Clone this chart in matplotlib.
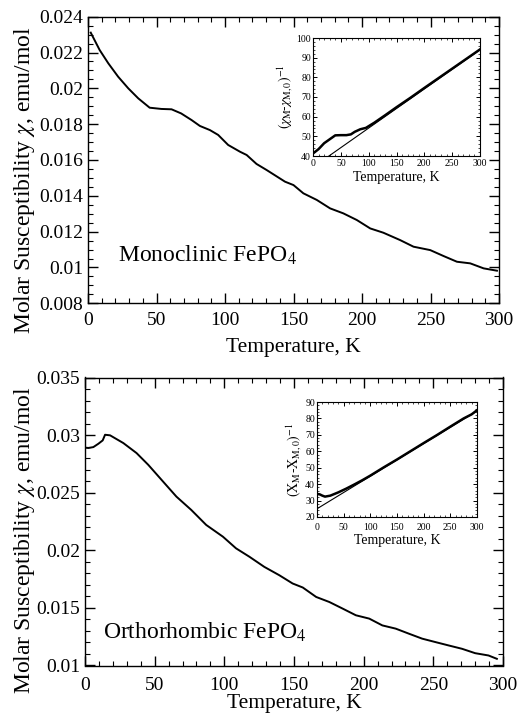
import matplotlib
matplotlib.use("Agg")
import matplotlib.pyplot as plt
from matplotlib.ticker import MultipleLocator, FuncFormatter

plt.rcParams['font.family'] = ['Liberation Serif', 'DejaVu Serif']
plt.rcParams['mathtext.fontset'] = 'stix'

# ---- data: monoclinic main curve ----
T_mono = [2, 8.5, 14.8, 22, 29.4, 36.7, 45, 53.6, 61, 68, 75.6, 81.7, 89, 95, 102.3, 111, 115.8,
          123, 130.4, 143.8, 150, 157.2, 167, 176.7, 186.4, 196.2, 206, 215.6, 227.8, 237.6,
          249.8, 259.5, 269.3, 279, 288.8, 298.5]
chi_mono = [0.02311, 0.02214, 0.0214, 0.02065, 0.0200, 0.01944, 0.01892, 0.01885, 0.01883, 0.0186,
            0.01823, 0.0179, 0.01767, 0.0174, 0.01684, 0.01646, 0.01628, 0.01578, 0.01544, 0.01479,
            0.0146, 0.01414, 0.01377, 0.0133, 0.01302, 0.01265, 0.01218, 0.01194, 0.01153, 0.01116,
            0.01097, 0.01064, 0.01032, 0.01023, 0.00995, 0.00982]

# ---- data: orthorhombic main curve ----
T_ortho = [0.5, 2.5, 6, 9.6, 12.7, 14.4, 18, 27.5, 37, 45.4, 56, 65.6, 76.3, 87, 99, 108.4, 118,
           128.7, 139.4, 149, 156.3, 165.9, 175.4, 184.9, 194.4, 204, 213.4, 223, 232.5, 242,
           251.6, 261, 270.6, 280, 289.6, 295.6]
chi_ortho = [0.0289, 0.02888, 0.02896, 0.02925, 0.02954, 0.03003, 0.02998, 0.02931, 0.02844, 0.02742,
             0.02597, 0.02466, 0.0235, 0.0222, 0.02118, 0.02017, 0.01944, 0.01856, 0.01784, 0.01712,
             0.01677, 0.01595, 0.01551, 0.01494, 0.01436, 0.01407, 0.01348, 0.0132, 0.01276, 0.01233,
             0.01203, 0.01174, 0.01145, 0.01107, 0.01087, 0.01058]

# ---- inset data (inverse susceptibility) ----
Ti_mono = [1, 10, 20, 30, 40, 50, 60, 68, 75, 85, 95, 110, 130, 150, 175, 200, 225, 250, 275, 300]
inv_mono = [41.5, 43.5, 46.5, 48.5, 50.5, 50.6, 50.6, 51.0, 52.3, 53.6, 54.3, 56.9, 60.8, 64.8,
            69.6, 74.6, 79.5, 84.4, 89.3, 94.2]
Ti_ortho = [0.5, 5, 10, 15, 25, 40, 55, 70, 85, 100, 125, 150, 175, 200, 225, 250, 275, 290, 300]
inv_ortho = [34.0, 33.8, 33.0, 32.4, 33.0, 35.0, 37.3, 39.8, 42.4, 45.2, 50.2, 55.0, 60.0, 65.0,
             69.9, 75.0, 80.0, 82.5, 85.0]

# Curie-Weiss fit lines
fit_T = [0, 300]
fit_mono = [34.3, 94.0]
fit_ortho = [25.0, 84.5]

W, H = 519, 717
fig = plt.figure(figsize=(W / 100, H / 100), dpi=100)


def rect(l, t, r, b):
    return [l / W, 1 - b / H, (r - l) / W, (b - t) / H]


def style_main(ax):
    ax.tick_params(which='both', direction='in', top=True, right=True, labelsize=14)
    ax.tick_params(which='major', length=7, width=1.0)
    ax.tick_params(which='minor', length=3.5, width=0.8)
    for s in ax.spines.values():
        s.set_linewidth(1.0)
    ax.xaxis.set_major_locator(MultipleLocator(50))
    ax.xaxis.set_minor_locator(MultipleLocator(10))
    ax.yaxis.set_major_formatter(FuncFormatter(lambda v, p: ('%g' % round(v, 4))))


def style_inset(ax, xpad):
    ax.tick_params(which='both', direction='in', top=True, right=True, labelsize=7, pad=1.5)
    ax.tick_params(axis='x', pad=xpad)
    ax.tick_params(which='major', length=3, width=0.7)
    ax.tick_params(which='minor', length=1.6, width=0.5)
    for s in ax.spines.values():
        s.set_linewidth(0.8)
    ax.set_xlim(0, 300)
    ax.xaxis.set_major_locator(MultipleLocator(50))
    ax.xaxis.set_minor_locator(MultipleLocator(10))
    ax.yaxis.set_major_locator(MultipleLocator(10))
    ax.yaxis.set_minor_locator(MultipleLocator(2))
    ax.set_xlabel('Temperature, K', fontsize=10, labelpad=1.5)


# ---------- top: monoclinic ----------
ax1 = fig.add_axes(rect(88, 16.7, 499, 303.3))
ax1.plot(T_mono, chi_mono, color='black', lw=1.4)
ax1.set_xlim(0, 300)
ax1.set_ylim(0.008, 0.024)
ax1.yaxis.set_major_locator(MultipleLocator(0.002))
ax1.yaxis.set_minor_locator(MultipleLocator(0.0005))
style_main(ax1)
ax1.tick_params(axis='x', pad=6.5)
ax1.set_xlabel('Temperature, K', fontsize=15.5, labelpad=6)
ax1.set_ylabel(r'Molar Susceptibility $\chi$, emu/mol', fontsize=17)
ax1.yaxis.set_label_coords(-0.124, 0.43)
ax1.text(22, 0.0107, r'Monoclinic FePO$_4$', fontsize=17, va='center', ha='left')

ins1 = fig.add_axes(rect(313, 38, 480, 156))
ins1.plot(Ti_mono, inv_mono, color='black', lw=1.8)
ins1.plot(fit_T, fit_mono, color='black', lw=0.8)
ins1.set_ylim(40, 100)
style_inset(ins1, 2.5)
ins1.set_ylabel(r'$(\chi_{\rm M}\!\text{-}\chi_{\rm M,0})^{-1}$', fontsize=10, labelpad=1)

# ---------- bottom: orthorhombic ----------
ax2 = fig.add_axes(rect(85, 377.5, 503, 665.5))
ax2.plot(T_ortho, chi_ortho, color='black', lw=1.4)
ax2.set_xlim(0, 300)
ax2.set_ylim(0.01, 0.035)
ax2.yaxis.set_major_locator(MultipleLocator(0.005))
ax2.yaxis.set_minor_locator(MultipleLocator(0.001))
style_main(ax2)
ax2.tick_params(axis='x', pad=8)
ax2.set_xlabel('Temperature, K', fontsize=15.5, labelpad=0.5)
ax2.set_ylabel(r'Molar Susceptibility $\chi$, emu/mol', fontsize=17)
ax2.yaxis.set_label_coords(-0.114, 0.436)
ax2.text(13, 0.0129, r'Orthorhombic FePO$_4$', fontsize=17, va='center', ha='left')

ins2 = fig.add_axes(rect(317, 402, 477, 517))
ins2.plot(Ti_ortho, inv_ortho, color='black', lw=1.8)
ins2.plot(fit_T, fit_ortho, color='black', lw=0.8)
ins2.set_ylim(20, 90)
style_inset(ins2, 4.5)
ins2.set_ylabel(r'$(\mathrm{X}_{\rm M}\text{-}\mathrm{X}_{\rm M,0})^{-1}$', fontsize=10, labelpad=1)

fig.savefig('out.png', dpi=100)
